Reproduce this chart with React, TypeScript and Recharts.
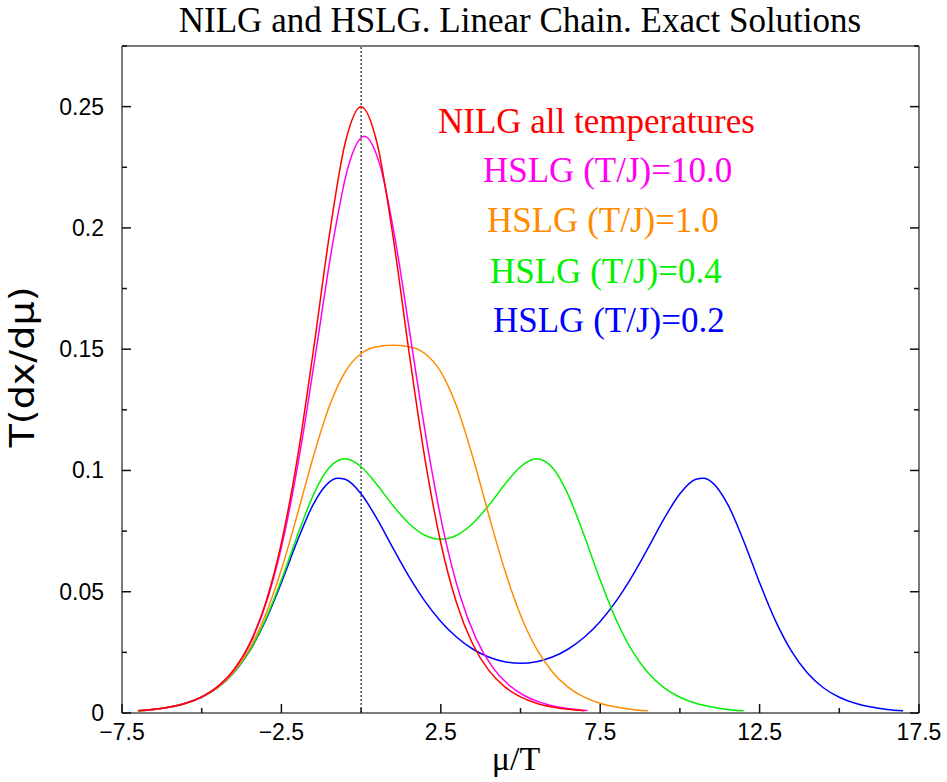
import { Line, LineChart, ReferenceLine, XAxis, YAxis } from "recharts";

// NILG vs HSLG on a linear chain: T(dx/dμ) against μ/T, one curve per T/J plus the NILG reference.
// Every series keeps its own μ/T grid since the HSLG curves are centred on μ/T = J/T.

const muNilg = [-7, -6.5, -6, -5.5, -5, -4.5, -4, -3.5, -3, -2.5, -2, -1.5, -1, -0.5, 0, 0.5, 1, 1.5, 2, 2.5, 3, 3.5, 4, 4.5, 5, 5.5, 6, 6.5, 7];
const nilg = [0.00091, 0.0015, 0.00247, 0.00405, 0.00665, 0.01087, 0.01766, 0.02845, 0.04518, 0.0701, 0.10499, 0.14915, 0.19661, 0.235, 0.25, 0.235, 0.19661, 0.14915, 0.10499, 0.0701, 0.04518, 0.02845, 0.01766, 0.01087, 0.00665, 0.00405, 0.00247, 0.0015, 0.00091];

const muT10 = [-6.9, -6.4, -5.9, -5.4, -4.9, -4.4, -3.9, -3.4, -2.9, -2.4, -1.9, -1.4, -0.9, -0.4, 0.1, 0.6, 1.1, 1.6, 2.1, 2.6, 3.1, 3.6, 4.1, 4.6, 5.1, 5.6, 6.1, 6.6, 7.1];
const hslgT10 = [0.00101, 0.00165, 0.00272, 0.00447, 0.00732, 0.01193, 0.01931, 0.03089, 0.04854, 0.07417, 0.10875, 0.15045, 0.19287, 0.22547, 0.23781, 0.22547, 0.19287, 0.15045, 0.10875, 0.07417, 0.04854, 0.03089, 0.01931, 0.01193, 0.00732, 0.00447, 0.00272, 0.00165, 0.00101];

const muT1 = [-7, -6.5, -6, -5.5, -5, -4.5, -4, -3.5, -3, -2.5, -2, -1.5, -1, -0.5, 0, 0.5, 1, 1.5, 2, 2.5, 3, 3.5, 4, 4.5, 5, 5.5, 6, 6.5, 7, 7.5, 8, 8.5, 9];
const hslgT1 = [0.00091, 0.00149, 0.00245, 0.00401, 0.00654, 0.01057, 0.0169, 0.02651, 0.04043, 0.05917, 0.08186, 0.10564, 0.12634, 0.14068, 0.14823, 0.15104, 0.15163, 0.15104, 0.14823, 0.14068, 0.12634, 0.10564, 0.08186, 0.05917, 0.04043, 0.02651, 0.0169, 0.01057, 0.00654, 0.00401, 0.00245, 0.00149, 0.00091];

const muT04 = [-7, -6.5, -6, -5.5, -5, -4.5, -4, -3.5, -3, -2.5, -2, -1.5, -1, -0.5, 0, 0.5, 1, 1.5, 2, 2.5, 3, 3.5, 4, 4.5, 5, 5.5, 6, 6.5, 7, 7.5, 8, 8.5, 9, 9.5, 10, 10.5, 11, 11.5, 12];
const hslgT04 = [0.00091, 0.00149, 0.00245, 0.00399, 0.00649, 0.01044, 0.01657, 0.02568, 0.03846, 0.05481, 0.07307, 0.08985, 0.10117, 0.10483, 0.10154, 0.09408, 0.08552, 0.07814, 0.0733, 0.07163, 0.0733, 0.07814, 0.08552, 0.09408, 0.10154, 0.10483, 0.10117, 0.08985, 0.07307, 0.05481, 0.03846, 0.02568, 0.01657, 0.01044, 0.00649, 0.00399, 0.00245, 0.00149, 0.00091];

const muT02 = [-7, -6.5, -6, -5.5, -5, -4.5, -4, -3.5, -3, -2.5, -2, -1.5, -1, -0.75, -0.5, 0, 0.5, 1, 1.5, 2, 2.5, 3, 3.5, 4, 4.5, 5, 5.5, 6, 6.5, 7, 7.5, 8, 8.5, 9, 9.5, 10, 10.5, 10.75, 11, 11.5, 12, 12.5, 13, 13.5, 14, 14.5, 15, 15.5, 16, 16.5, 17];
const hslgT02 = [0.00091, 0.00149, 0.00244, 0.00399, 0.00648, 0.01041, 0.01648, 0.02549, 0.03796, 0.05371, 0.07092, 0.08604, 0.0952, 0.0968, 0.09638, 0.09041, 0.07999, 0.06797, 0.05634, 0.04614, 0.03777, 0.03123, 0.02639, 0.02308, 0.02115, 0.02052, 0.02115, 0.02308, 0.02639, 0.03123, 0.03777, 0.04614, 0.05634, 0.06797, 0.07999, 0.09041, 0.09638, 0.0968, 0.0952, 0.08604, 0.07092, 0.05371, 0.03796, 0.02549, 0.01648, 0.01041, 0.00648, 0.00399, 0.00244, 0.00149, 0.00091];

const xTicks = [-7.5, -5, -2.5, 0, 2.5, 5, 7.5, 10, 12.5, 15, 17.5];
const xMajor = [-7.5, -2.5, 2.5, 7.5, 12.5, 17.5];
const yTicks = [0, 0.025, 0.05, 0.075, 0.1, 0.125, 0.15, 0.175, 0.2, 0.225, 0.25, 0.275];
const yMajor = [0, 0.05, 0.1, 0.15, 0.2, 0.25];

const legendLabels = ["NILG all temperatures", "HSLG (T/J)=10.0", "HSLG (T/J)=1.0", "HSLG (T/J)=0.4", "HSLG (T/J)=0.2"];

const RED = "#ff0000";
const MAGENTA = "#ff00f0";
const ORANGE = "#ff8c00";
const GREEN = "#00f000";
const BLUE = "#0000ff";

const toPoints = (mu: number[], values: number[]) => mu.map((x, i) => ({ x, y: values[i] }));

// drawn back to front: NILG ends up on top, as in the original
const series = [
  { key: "t02", data: toPoints(muT02, hslgT02), color: BLUE },
  { key: "t04", data: toPoints(muT04, hslgT04), color: GREEN },
  { key: "t1", data: toPoints(muT1, hslgT1), color: ORANGE },
  { key: "t10", data: toPoints(muT10, hslgT10), color: MAGENTA },
  { key: "nilg", data: toPoints(muNilg, nilg), color: RED },
];

const legendRows = [
  { text: legendLabels[0], color: RED, x: 438, y: 133 },
  { text: legendLabels[1], color: MAGENTA, x: 483, y: 182 },
  { text: legendLabels[2], color: ORANGE, x: 487, y: 232 },
  { text: legendLabels[3], color: GREEN, x: 490, y: 283 },
  { text: legendLabels[4], color: BLUE, x: 493, y: 332 },
];

const W = 947;
const H = 782;
const FRAME = "#7a7a7a";
const TICK = "#111";
const SERIF = "'Liberation Serif', 'Times New Roman', serif";
const SANS = "'Liberation Sans', Arial, sans-serif";

type Side = "bottom" | "top" | "left" | "right";

// Ticks point into the plot on all four sides; only bottom/left carry labels.
const makeTick = (side: Side) => (props: any) => {
  const { x, y, payload } = props;
  const v = payload.value as number;
  const major = side === "bottom" || side === "top" ? xMajor.includes(v) : yMajor.includes(v);
  const len = major ? 9 : 5;
  let line = { x1: x, y1: y, x2: x, y2: y };
  if (side === "bottom") line = { x1: x, y1: y, x2: x, y2: y - len };
  if (side === "top") line = { x1: x, y1: y, x2: x, y2: y + len };
  if (side === "left") line = { x1: x, y1: y, x2: x + len, y2: y };
  if (side === "right") line = { x1: x, y1: y, x2: x - len, y2: y };
  const label = v < 0 ? "\u2212" + Math.abs(v) : String(v);
  return (
    <g>
      <line {...line} stroke={TICK} strokeWidth={1.5} />
      {major && side === "bottom" && (
        <text x={x} y={y + 27} textAnchor="middle" fontFamily={SANS} fontSize={23} fill="#000">
          {label}
        </text>
      )}
      {major && side === "left" && (
        <text x={x - 18} y={y + 8} textAnchor="end" fontFamily={SANS} fontSize={23} fill="#000">
          {label}
        </text>
      )}
    </g>
  );
};

export default function App() {
  return (
    <div style={{ position: "absolute", left: 0, top: 0, width: W, height: H, background: "#fff" }}>
      <LineChart width={W} height={H} margin={{ top: 0, right: 0, bottom: 0, left: 0 }}>
        <XAxis
          dataKey="x"
          type="number"
          domain={[-7.5, 17.5]}
          allowDataOverflow
          ticks={xTicks}
          interval={0}
          height={69}
          tickSize={0}
          tickMargin={0}
          tickLine={false}
          axisLine={{ stroke: FRAME, strokeWidth: 2 }}
          tick={makeTick("bottom")}
        />
        <XAxis
          xAxisId="top"
          orientation="top"
          type="number"
          domain={[-7.5, 17.5]}
          allowDataOverflow
          ticks={xTicks}
          interval={0}
          height={46}
          tickSize={0}
          tickMargin={0}
          tickLine={false}
          axisLine={{ stroke: FRAME, strokeWidth: 2 }}
          tick={makeTick("top")}
        />
        <YAxis
          type="number"
          domain={[0, 0.275]}
          allowDataOverflow
          ticks={yTicks}
          interval={0}
          width={122}
          tickSize={0}
          tickMargin={0}
          tickLine={false}
          axisLine={{ stroke: FRAME, strokeWidth: 2 }}
          tick={makeTick("left")}
        />
        <YAxis
          yAxisId="right"
          orientation="right"
          type="number"
          domain={[0, 0.275]}
          allowDataOverflow
          ticks={yTicks}
          interval={0}
          width={28}
          tickSize={0}
          tickMargin={0}
          tickLine={false}
          axisLine={{ stroke: FRAME, strokeWidth: 2 }}
          tick={makeTick("right")}
        />
        <ReferenceLine x={0} stroke="#222" strokeWidth={1.2} strokeDasharray="2 2" />
        {series.map((s) => (
          <Line
            key={s.key}
            data={s.data}
            dataKey="y"
            type="monotone"
            stroke={s.color}
            strokeWidth={1.5}
            dot={false}
            activeDot={false}
            isAnimationActive={false}
          />
        ))}
      </LineChart>
      <svg width={W} height={H} style={{ position: "absolute", left: 0, top: 0, pointerEvents: "none" }}>
        <text x={520} y={32} textAnchor="middle" fontFamily={SERIF} fontSize={35} fill="#000">
          NILG and HSLG. Linear Chain. Exact Solutions
        </text>
        {legendRows.map((row) => (
          <text key={row.text} x={row.x} y={row.y} fontFamily={SERIF} fontSize={35} fill={row.color}>
            {row.text}
          </text>
        ))}
        <text x={516} y={770} textAnchor="middle" fontFamily={SERIF} fontSize={34} fill="#000">
          μ/T
        </text>
        <text
          x={34}
          y={367}
          textAnchor="middle"
          fontFamily="'DejaVu Sans', sans-serif"
          fontSize={34}
          textLength={161}
          lengthAdjust="spacingAndGlyphs"
          transform="rotate(-90, 34, 367)"
          fill="#000"
        >
          T(dx/dμ)
        </text>
      </svg>
    </div>
  );
}
